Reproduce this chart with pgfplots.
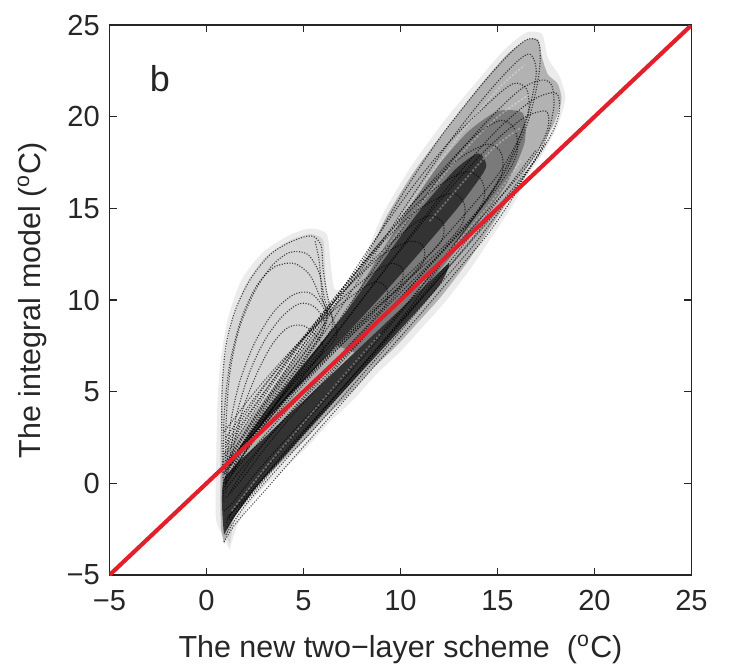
\documentclass[border=0pt]{standalone}
\usepackage{fontspec}
\setmainfont{Liberation Sans}
\usepackage{pgfplots}
\pgfplotsset{compat=1.18}

\definecolor{diagred}{RGB}{226,32,44}

\tikzset{
  strand/.style={black, line width=0.4pt, dash pattern=on 0.4pt off 0.55pt, opacity=0.7, smooth, tension=0.5},
  gap/.style={white, line width=0.6pt, dash pattern=on 0.8pt off 0.6pt, opacity=0.3, smooth, tension=0.5},
  cloud/.style={draw=none, smooth, tension=0.4},
}

\begin{document}
\begin{tikzpicture}
\path[use as bounding box] (-1.391cm,-1.207cm) rectangle (7.893cm,7.303cm);
\begin{axis}[
  scale only axis, width=7.391cm, height=6.985cm,
  xmin=-5, xmax=25, ymin=-5, ymax=25,
  xtick={-5,0,...,25}, ytick={-5,0,...,25},
  xticklabels={−5,0,5,10,15,20,25},
  yticklabels={−5,0,5,10,15,20,25},
  tick align=inside, major tick length=0.09cm,
  axis line style={black!85, line width=0.6pt},
  tick style={black!85, line width=0.5pt},
  tick label style={font=\fontsize{10.5}{12}\selectfont, text=black!85},
  xticklabel style={yshift=-0.07cm},
  label style={font=\fontsize{11}{13}\selectfont, text=black!85},
  xlabel={The new two−layer scheme\ \ (\textsuperscript{o}C)},
  ylabel={The integral model (\textsuperscript{o}C)},
  xlabel style={at={(axis description cs:0.5,-0.136)}, anchor=center},
  ylabel style={at={(axis description cs:-0.133,0.5)}, anchor=center},
  clip=true,
]
% density of the point cloud: faint halo, envelopes, dense cores
\addplot[cloud, fill=black!8] coordinates {
  (1.2,-3.6) (0.5,-2) (0.5,1) (0.55,4) (0.7,6.5) (1.1,9) (1.8,11.1) (2.9,12.6)
  (4.2,13.5) (5.3,13.9) (6.2,13.6) (6.4,12) (6.6,10.6) (7.2,10.8) (8.2,12.5) (9.1,14.7)
  (10.5,17.2) (12.2,19.7) (14,22) (15.4,23.7) (16.5,24.6) (17.3,24.5)
  (17.6,23.2) (18.2,22.2) (18.5,21) (18.1,19.5) (17.4,18.1) (16.6,16.8)
  (15.8,15.2) (14.8,13.6) (13.6,11.7) (12.3,9.9) (11.2,8.6) (10,7.2)
  (8.8,6) (7.6,4.6) (6.4,3.4) (5.2,2) (4,0.8) (3,-0.2) (2.1,-1.3)
  (1.6,-2.3) (1.3,-3.2)};
\addplot[cloud, fill=black!16] coordinates {
  (1.2,-3.3) (0.75,-2) (0.7,1) (0.75,4) (0.9,6.5) (1.3,8.8) (2,10.8) (3,12.3)
  (4.2,13.2) (5.3,13.6) (6,13.3) (6.1,12) (6.2,10.5) (6.6,9.2) (6.9,8.2)
  (5.5,6) (3.5,3.2) (2,0.8) (1.5,-1.5)};
\addplot[cloud, fill=black!30] coordinates {
  (0.75,-2.5) (0.8,1.2) (2,3.2) (4,6) (6,8.8) (7,10.2) (8.3,12.4) (9.3,14.6)
  (10.7,17) (12.4,19.4) (14.1,21.7) (15.5,23.4) (16.5,24.2) (17.1,24.2)
  (17.3,23.2) (17.6,22.3) (18.1,21.8) (18.3,20.9) (17.9,19.6) (17.2,18.3)
  (16.4,17) (15.6,15.5) (14.6,13.9) (13.4,12) (12.1,10.2) (11,8.9) (9.8,7.5)
  (8.6,6.3) (7.4,4.9) (6.2,3.7) (5,2.3) (3.8,1.1) (2.8,0.1) (1.9,-1)
  (1.4,-1.9) (1.1,-2.7) (0.9,-3.3)};
\addplot[cloud, fill=black!52] coordinates {
  (6.5,7.6) (7.5,9.9) (9,12.6) (10.5,15.1) (12,17.4) (13.5,19.2) (15,20.3)
  (16.3,20.2) (16.4,18.6) (15.5,16.4) (14,14.2) (12,11.6) (10,9.2) (8,7)};
% dark bands hugging the diagonal
\addplot[cloud, fill=black!80] coordinates {
  (0.85,0.6) (3,3.9) (5,6.5) (7,9.1) (9,12) (11,14.9) (12.8,17.1) (14,18)
  (14.4,17.2) (13,15.1) (11,12.6) (9,10.2) (7,7.9) (5,5.6) (3,3.4) (1.2,1.2)};
\addplot[cloud, fill=black!80] coordinates {
  (0.9,-2.8) (0.9,0.2) (3,2.5) (5,4.5) (7,6.5) (9,8.5) (11,10.5) (12.5,12)
  (12,10.8) (10,8.4) (8,6.1) (6,3.8) (4,1.5) (2.5,-0.3) (1.4,-1.9)};

% yearly trajectories, main band
\addplot[strand] coordinates {(0.9,0.2) (2,2.4) (4,5.6) (6,8.6) (8,12) (10,15.6) (12,18.8) (14,21.5) (15.5,23.3) (16.5,24.2) (17.1,24.1)
  (17.2,23) (17,21.5) (16.5,19.5) (15.5,17.2) (14,14.8) (12,12) (10,9.3) (8,6.8) (6,4.4) (4,2) (2.5,0) (1.5,-1.3) (1,-2.2)};
\addplot[strand] coordinates {(1,0) (2.5,2.6) (4.5,5.8) (6.5,8.9) (8.5,12.2) (10.5,15.5) (12.5,18.6) (14.5,21.3) (16,23) (16.7,23.4)
  (17,22.4) (16.6,20.3) (15.8,18) (14.5,15.6) (12.5,12.6) (10.5,9.6) (8.5,7) (6.5,4.6) (4.5,2.3) (3,0.4) (1.8,-1.2) (1,-2.5)};
\addplot[strand] coordinates {(0.9,0.5) (2.5,2.8) (4.5,5.6) (6.5,8.4) (8.5,11.5) (10.5,14.5) (12.5,17.4) (14.5,19.8) (16.2,21.5) (17.3,22) (17.8,21.7)
  (17.9,20.5) (17.5,18.8) (16.5,16.9) (15,14.9) (13,12.4) (11,10) (9,7.6) (7,5.2) (5,2.8) (3,0.4) (1.8,-1) (1,-2)};
\addplot[strand] coordinates {(1,0.3) (3,3.2) (5,5.9) (7,8.6) (9,11.4) (11,14.2) (13,16.9) (15,19.3) (16.8,20.9) (18,21.3)
  (18.2,20.4) (17.9,19.3) (17,17.7) (15.5,15.7) (13.5,13.1) (11.5,10.6) (9.5,8.1) (7.5,5.6) (5.5,3.2) (3.5,0.9) (2,-0.9) (1.1,-1.8)};
\addplot[strand] coordinates {(0.8,0.8) (2.5,3) (4.5,5.5) (6.5,8) (8.5,10.7) (10.5,13.4) (12.5,16) (14.5,18.3) (16.3,19.9) (17.5,20.3)
  (17.6,19.4) (17,18) (15.8,16.4) (14,14.3) (12,11.9) (10,9.4) (8,7) (6,4.6) (4,2.3) (2.5,0.5) (1.4,-1) (0.9,-1.5)};
\addplot[strand] coordinates {(1,1) (2.5,3.5) (4.5,6.8) (6.5,9.8) (8.5,13) (10.5,16) (12.5,18.6) (14.5,20.7) (15.8,21.8) (16.5,21.5)
  (16.6,20.2) (16,18.6) (15,16.8) (13.5,14.9) (11.5,12.5) (9.5,10) (7.5,7.7) (5.5,5.3) (3.5,2.9) (2,0.8) (1.2,-0.5)};
\addplot[strand] coordinates {(0.9,0.9) (2.5,3.6) (4.5,6.6) (6.5,9.6) (8.5,12.4) (10.5,15.1) (12.5,17.5) (14,19.1) (15.2,19.8) (15.9,19.3)
  (16,18) (15.3,16.6) (14,14.8) (12.5,13) (10.5,10.7) (8.5,8.4) (6.5,6.1) (4.5,3.8) (3,1.9) (1.8,0.2) (1,-0.8)};
\addplot[strand] coordinates {(1,1.2) (3,4.5) (5,7.6) (7,10.5) (9,13.2) (11,15.7) (13,17.7) (14.5,18.5) (15.2,18)
  (15.2,16.8) (14.3,15.3) (13,13.7) (11,11.3) (9,9) (7,6.8) (5,4.6) (3.2,2.5) (1.8,0.8) (1,-0.3)};
\addplot[strand] coordinates {(1,1.5) (3,4.8) (5,7.8) (7,10.6) (9,13.2) (11,15.4) (12.5,16.6) (13.5,17) (14.2,16.5)
  (14.3,15.5) (13.5,14.2) (12,12.5) (10,10.4) (8,8.2) (6,6) (4,3.8) (2.5,2) (1.4,0.6) (0.9,-0.2)};
\addplot[strand] coordinates {(0.9,1.6) (2.5,4.2) (4.5,7.2) (6.5,10) (8.5,12.5) (10.5,14.6) (12,15.6) (12.8,15.8) (13.3,15.2)
  (13.2,14.2) (12.3,13) (10.8,11.5) (9,9.7) (7,7.6) (5,5.4) (3.2,3.3) (1.8,1.4) (1,0.2)};
\addplot[strand] coordinates {(1,2) (2.5,4.3) (4.5,7.2) (6.5,9.8) (8.5,12.1) (10.5,14) (11.5,14.6) (12.2,14.2)
  (12.1,13.2) (11,12) (9.5,10.5) (7.5,8.4) (5.5,6.2) (3.5,4) (2,2.1) (1.1,0.8)};
\addplot[strand] coordinates {(1,2.2) (3,5.3) (5,8) (7,10.4) (9,12.4) (10.5,13.2) (11.2,12.9)
  (11.1,11.9) (10,10.8) (8.5,9.3) (6.5,7.2) (4.5,5) (2.8,3) (1.5,1.4) (0.9,0.6)};
\addplot[strand] coordinates {(1,2.5) (3,5.4) (5,7.9) (7,10.1) (8.5,11.4) (9.5,12) (10.1,11.7)
  (10,10.8) (9,9.8) (7.5,8.3) (5.5,6.2) (3.5,4) (2,2.2) (1.1,1)};
\addplot[strand] coordinates {(0.9,2.8) (2.5,5) (4.5,7.4) (6.5,9.4) (8,10.6) (8.8,11) (9.3,10.6)
  (9.2,9.7) (8,8.6) (6.5,7.1) (4.5,5) (2.8,3.1) (1.5,1.6)};
% cooling branches below the diagonal
\addplot[strand] coordinates {(0.9,-3.2) (1.5,-2.2) (3,-0.4) (5,2) (7,4.4) (9,6.8) (11,9.2) (13,11.7) (14.5,13.6) (15.8,15.6) (16.5,17)};
\addplot[strand] coordinates {(1,-2.8) (2,-1.2) (4,1.2) (6,3.5) (8,5.9) (10,8.3) (12,10.8) (14,13.3) (16,16.2) (17.5,18.6)};
\addplot[strand] coordinates {(1.2,-2) (3,0.2) (5,2.7) (7,5.2) (9,7.6) (11,10.1) (13,12.7) (15,15.4) (17,18.2)};

% lighter gaps between neighbouring years
\addplot[gap] coordinates {(7.5,10.6) (9.5,13.8) (11.5,16.8) (13.5,19.6) (15.2,21.7) (16.4,22.8)};
\addplot[gap] coordinates {(9,12.5) (11,15.2) (13,17.8) (14.8,19.8) (16.6,21.2)};
\addplot[gap] coordinates {(11.5,14.3) (13.2,16.4) (14.8,18.3) (16.2,19.4)};
\addplot[gap] coordinates {(11,10.8) (12.8,13) (14.5,15.1) (16.2,17.6)};
\addplot[gap] coordinates {(1.3,-1.5) (3,0.8) (5,3.3) (7,5.8) (9,8.2)};

% early-season lobe
\addplot[strand] coordinates {(0.9,-1) (0.8,2) (0.8,5) (1,7.5) (1.5,9.5) (2.3,11.2) (3.3,12.5) (4.4,13.2) (5.4,13.5) (5.9,13) (6,11.8) (6.2,10.4) (6.5,9) (6.7,8)
  (5.5,6.5) (4,4.5) (2.5,2.5) (1.3,0.5)};
\addplot[strand] coordinates {(1,-0.5) (1,3) (1.2,6) (1.7,8.5) (2.5,10.5) (3.4,11.9) (4.3,12.6) (5.2,12.5) (5.8,11.5) (6.1,10) (6.5,8.6)
  (5.3,6.8) (3.8,4.7) (2.4,2.6) (1.3,0.8)};
\addplot[strand] coordinates {(0.9,0) (0.9,3.5) (1.2,6.5) (1.8,9) (2.6,10.8) (3.5,11.8) (4.5,12) (5.3,11.4) (5.8,10.3) (6.2,9)
  (5,7) (3.5,5) (2.2,2.8) (1.2,1)};
\addplot[strand] coordinates {(1,0) (1.2,3) (1.7,5.5) (2.5,7.7) (3.5,9.4) (4.5,10.3) (5.3,10.4) (5.9,9.8) (6.2,8.8)
  (5.2,7) (3.8,5) (2.5,3) (1.4,1)};
\addplot[strand] coordinates {(1.1,0.5) (1.5,3.5) (2.2,6) (3,7.8) (3.9,9.1) (4.8,9.8) (5.6,9.6) (6.1,8.5)
  (5,6.8) (3.6,4.8) (2.3,2.8) (1.2,1.2)};
\addplot[strand] coordinates {(1.2,1) (1.8,3.8) (2.6,6) (3.4,7.6) (4.2,8.5) (5,8.6) (5.7,8) (6,7.2)
  (4.8,5.8) (3.5,4.2) (2.3,2.5) (1.3,1)};
\addplot[strand] coordinates {(5.6,13.2) (5.8,12.2) (5.9,11) (6,10) (6.3,9.2)};

% one-to-one line
\addplot[diagred, line width=1.5pt] coordinates {(-5,-5) (25,25)};

\node[font=\fontsize{13}{15}\selectfont, text=black!85] at (axis cs:-2.4,22.1) {b};
\end{axis}
\end{tikzpicture}
\end{document}
